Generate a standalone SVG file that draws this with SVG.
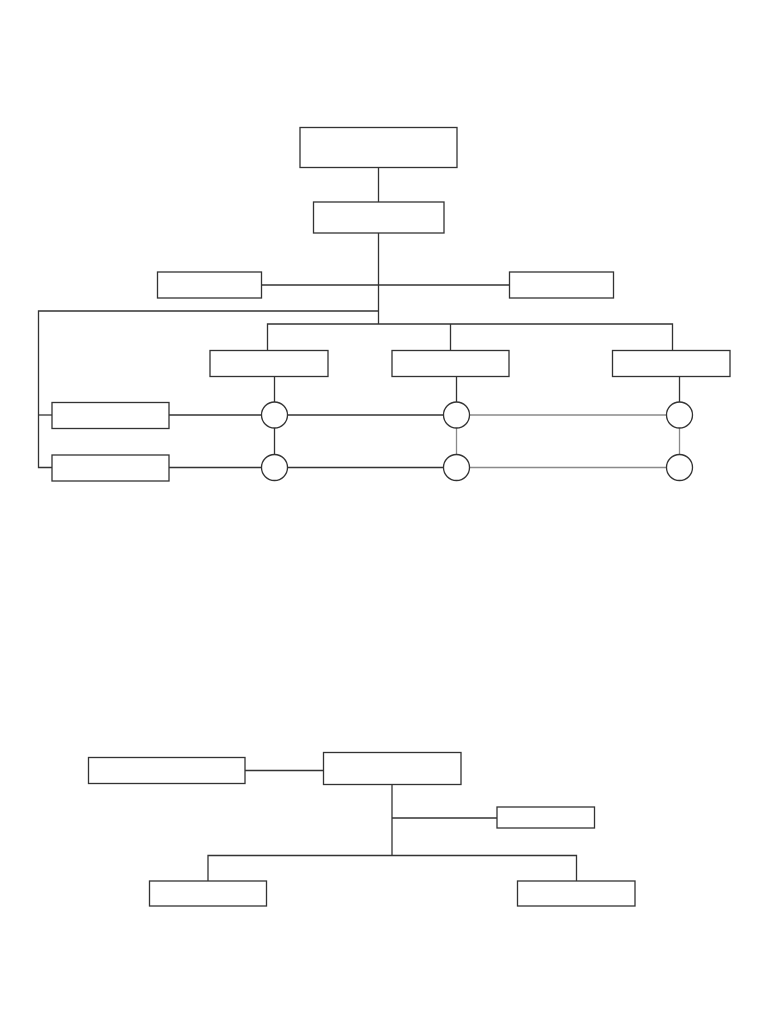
<svg xmlns="http://www.w3.org/2000/svg" width="768" height="1024" viewBox="0 0 768 1024">
<style>
.n{fill:#fff;stroke:#333;stroke-width:1.3}
.c line,.c polyline{stroke:#333;stroke-width:1.3;fill:none}
.c .g{stroke:#8a8a8a}
</style>
<rect width="768" height="1024" fill="#fff"/>
<g id="connectors" class="c">
<line x1="378.5" y1="167" x2="378.5" y2="202"/>
<line x1="378.5" y1="233" x2="378.5" y2="324"/>
<line x1="262" y1="285" x2="509" y2="285"/>
<polyline points="378.5,311 38.5,311 38.5,467.5 52,467.5"/>
<line x1="38.5" y1="415" x2="52" y2="415"/>
<polyline points="267.5,350 267.5,324 672.5,324 672.5,350"/>
<line x1="450.5" y1="324" x2="450.5" y2="350"/>
<line x1="274.5" y1="377" x2="274.5" y2="402"/>
<line x1="456.5" y1="377" x2="456.5" y2="402"/>
<line x1="679.5" y1="377" x2="679.5" y2="402"/>
<line x1="169" y1="415" x2="261.5" y2="415"/>
<line x1="287.5" y1="415" x2="443.5" y2="415"/>
<line class="g" x1="469.5" y1="415" x2="666.5" y2="415"/>
<line x1="169" y1="467.5" x2="261.5" y2="467.5"/>
<line x1="287.5" y1="467.5" x2="443.5" y2="467.5"/>
<line class="g" x1="469.5" y1="467.5" x2="666.5" y2="467.5"/>
<line x1="274.5" y1="428" x2="274.5" y2="454.5"/>
<line class="g" x1="456.5" y1="428" x2="456.5" y2="454.5"/>
<line class="g" x1="679.5" y1="428" x2="679.5" y2="454.5"/>
<line x1="245" y1="770.5" x2="323.5" y2="770.5"/>
<line x1="392" y1="784.5" x2="392" y2="855.5"/>
<line x1="392" y1="818" x2="497" y2="818"/>
<polyline points="208,881 208,855.5 576.5,855.5 576.5,881"/>
</g>
<g id="top"><rect class="n" x="300" y="127.5" width="157" height="40"/></g>
<g id="second"><rect class="n" x="313.5" y="202" width="130.5" height="31"/></g>
<g id="leftSide"><rect class="n" x="157.5" y="272" width="104" height="26"/></g>
<g id="rightSide"><rect class="n" x="509.5" y="272" width="104" height="26"/></g>
<g id="boxA"><rect class="n" x="210" y="350.5" width="118" height="26"/></g>
<g id="boxB"><rect class="n" x="392" y="350.5" width="117" height="26"/></g>
<g id="boxC"><rect class="n" x="612.5" y="350.5" width="117.5" height="26"/></g>
<g id="row1"><rect class="n" x="52" y="402.5" width="117" height="26"/></g>
<g id="row2"><rect class="n" x="52" y="455" width="117" height="26"/></g>
<g id="c1"><circle class="n" cx="274.5" cy="415" r="13"/></g>
<g id="c2"><circle class="n" cx="456.5" cy="415" r="13"/></g>
<g id="c3"><circle class="n" cx="679.5" cy="415" r="13"/></g>
<g id="c4"><circle class="n" cx="274.5" cy="467.5" r="13"/></g>
<g id="c5"><circle class="n" cx="456.5" cy="467.5" r="13"/></g>
<g id="c6"><circle class="n" cx="679.5" cy="467.5" r="13"/></g>
<g id="bLeft"><rect class="n" x="88.5" y="757.5" width="156.5" height="26"/></g>
<g id="bCenter"><rect class="n" x="323.5" y="752.5" width="137.5" height="32"/></g>
<g id="bSide"><rect class="n" x="497" y="807" width="97.5" height="21"/></g>
<g id="bBL"><rect class="n" x="149.5" y="881" width="117" height="25"/></g>
<g id="bBR"><rect class="n" x="517.5" y="881" width="117.5" height="25"/></g>
</svg>
